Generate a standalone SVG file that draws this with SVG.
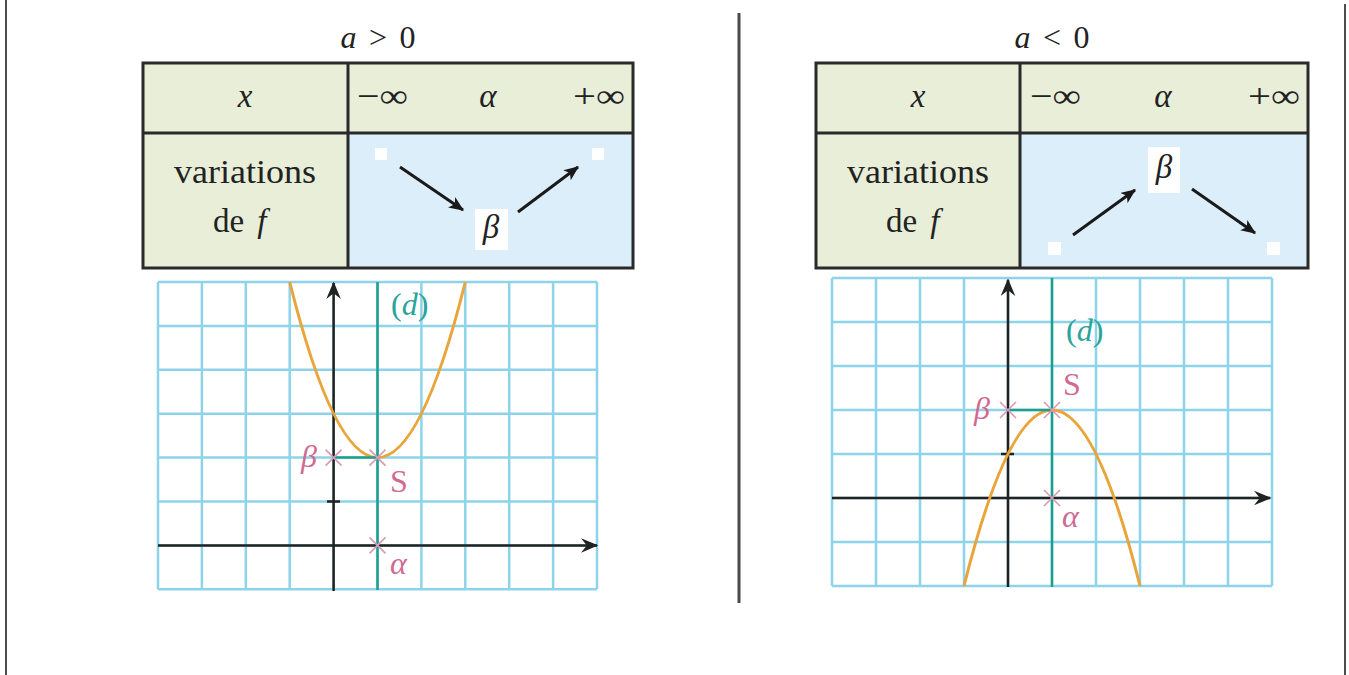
<svg xmlns="http://www.w3.org/2000/svg" width="1349" height="675" viewBox="0 0 1349 675">
<style>
text{font-family:"Liberation Serif","DejaVu Serif",serif;fill:#222}
.t{font-size:32px}
.c{font-size:33px}
.i{font-style:italic}
.hdr{fill:#e9eed9}
.blu{fill:#dceef9}
.frame{fill:none;stroke:#2a2a2a;stroke-width:3}
.sq{fill:#ffffff}
.arr{stroke:#1a1a1a;stroke-width:3;fill:none;marker-end:url(#ah)}
.grid{stroke:#8dd4ea;stroke-width:2.5;fill:none}
.axis{stroke:#222;stroke-width:2.5;fill:none;marker-end:url(#ax)}
.d{stroke:#1f9e90;stroke-width:2.5;fill:none}
.par{stroke:#e9a43a;stroke-width:3;fill:none}
.x{stroke:#d99ab5;stroke-width:1.6;fill:none}
.pk{fill:#cf6a93;font-size:32px}
.tl{fill:#2aa39a;font-size:32px}
.sep{stroke:#4a4a4a;stroke-width:3}
.bord{stroke:#111;stroke-width:1.5}
</style>
<defs>
<marker id="ah" viewBox="0 0 12 10" refX="11" refY="5" markerWidth="5" markerHeight="4.2" orient="auto" markerUnits="strokeWidth">
<path d="M0,0 L12,5 L0,10 L3,5 Z" fill="#1a1a1a"/>
</marker>
<marker id="ax" viewBox="0 0 12 10" refX="11" refY="5" markerWidth="7" markerHeight="6" orient="auto" markerUnits="strokeWidth">
<path d="M0,0 L12,5 L0,10 L4,5 Z" fill="#222"/>
</marker>
</defs>

<g id="borders">
<line class="bord" x1="6" y1="0" x2="6" y2="675"/>
<line class="bord" x1="1345" y1="4" x2="1345" y2="675"/>
<line class="sep" x1="739" y1="13" x2="739" y2="603"/>
</g>

<!-- LEFT: a > 0 -->
<g id="left-title">
<text class="t" x="378" y="48" text-anchor="middle" textLength="75" lengthAdjust="spacing"><tspan class="i">a</tspan> &gt; 0</text>
</g>
<g id="left-table">
<rect class="hdr" x="143" y="63" width="490" height="205"/>
<rect class="blu" x="348" y="133" width="285" height="135"/>
<rect class="frame" x="143" y="63" width="490" height="205"/>
<line class="frame" x1="348" y1="63" x2="348" y2="268"/>
<line class="frame" x1="143" y1="133" x2="633" y2="133"/>
<text class="c i" x="245" y="107" text-anchor="middle">x</text>
<text class="c" x="357" y="107" textLength="51" lengthAdjust="spacingAndGlyphs">−∞</text>
<text class="c i" x="488" y="107" text-anchor="middle">α</text>
<text class="c" x="573" y="107" textLength="52" lengthAdjust="spacingAndGlyphs">+∞</text>
<text class="c" x="245" y="183" text-anchor="middle" textLength="142" lengthAdjust="spacingAndGlyphs">variations</text>
<text class="c" x="213" y="232">de<tspan class="i" dx="13">f</tspan></text>
<rect class="sq" x="375" y="148" width="12" height="12"/>
<rect class="sq" x="592" y="148" width="12" height="12"/>
<rect class="sq" x="475" y="209" width="33" height="41"/>
<text class="c i" x="491" y="238" text-anchor="middle">β</text>
</g>
<g id="left-table-arrows">
<line class="arr" x1="400" y1="167" x2="463" y2="210"/>
<line class="arr" x1="518" y1="212" x2="578" y2="167"/>
</g>

<g id="left-graph">
<path class="grid" d="M158,282V589.3M201.9,282V589.3M245.8,282V589.3M289.7,282V589.3M333.6,282V589.3M377.5,282V589.3M421.4,282V589.3M465.3,282V589.3M509.2,282V589.3M553.1,282V589.3M597,282V589.3M158,282H597M158,325.9H597M158,369.8H597M158,413.7H597M158,457.6H597M158,501.5H597M158,545.4H597M158,589.3H597"/>
<line class="axis" x1="158" y1="545.4" x2="597" y2="545.4"/>
<line class="axis" x1="333.6" y1="591" x2="333.6" y2="283"/>
<line x1="327" y1="501.5" x2="340" y2="501.5" stroke="#222" stroke-width="2.5"/>
<line class="d" x1="377.5" y1="282" x2="377.5" y2="590"/>
<path class="par" d="M289.7,282 Q377.5,633.2 465.3,282"/>
<line class="d" x1="333.6" y1="457.6" x2="377.5" y2="457.6"/>
<path class="x" d="M325.6,449.6l16,16M341.6,449.6l-16,16M369.5,449.6l16,16M385.5,449.6l-16,16M369.5,537.4l16,16M385.5,537.4l-16,16"/>
<text class="pk i" x="301" y="467">β</text>
<text class="pk" x="390" y="492">S</text>
<text class="pk i" x="390" y="574">α</text>
<text class="tl" x="391" y="315">(<tspan class="i">d</tspan>)</text>
</g>

<!-- RIGHT: a < 0 -->
<g id="right-title">
<text class="t" x="1052" y="48" text-anchor="middle" textLength="75" lengthAdjust="spacing"><tspan class="i">a</tspan> &lt; 0</text>
</g>
<g id="right-table">
<rect class="hdr" x="816" y="63" width="492" height="205"/>
<rect class="blu" x="1020" y="133" width="288" height="135"/>
<rect class="frame" x="816" y="63" width="492" height="205"/>
<line class="frame" x1="1020" y1="63" x2="1020" y2="268"/>
<line class="frame" x1="816" y1="133" x2="1308" y2="133"/>
<text class="c i" x="918" y="107" text-anchor="middle">x</text>
<text class="c" x="1030" y="107" textLength="51" lengthAdjust="spacingAndGlyphs">−∞</text>
<text class="c i" x="1163" y="107" text-anchor="middle">α</text>
<text class="c" x="1248" y="107" textLength="52" lengthAdjust="spacingAndGlyphs">+∞</text>
<text class="c" x="918" y="183" text-anchor="middle" textLength="142" lengthAdjust="spacingAndGlyphs">variations</text>
<text class="c" x="886" y="232">de<tspan class="i" dx="13">f</tspan></text>
<rect class="sq" x="1048" y="242" width="13" height="13"/>
<rect class="sq" x="1267" y="242" width="13" height="13"/>
<rect class="sq" x="1148" y="147" width="32" height="46"/>
<text class="c i" x="1164" y="178" text-anchor="middle">β</text>
</g>
<g id="right-table-arrows">
<line class="arr" x1="1073" y1="235" x2="1135" y2="190"/>
<line class="arr" x1="1192" y1="189" x2="1255" y2="233"/>
</g>

<g id="right-graph">
<path class="grid" d="M832,278V586M876,278V586M920,278V586M964,278V586M1008,278V586M1052,278V586M1096,278V586M1140,278V586M1184,278V586M1228,278V586M1272,278V586M832,278H1272M832,322H1272M832,366H1272M832,410H1272M832,454H1272M832,498H1272M832,542H1272M832,586H1272"/>
<line class="axis" x1="832" y1="498" x2="1270" y2="498"/>
<line class="axis" x1="1008" y1="587" x2="1008" y2="280"/>
<line x1="1001" y1="454" x2="1014" y2="454" stroke="#222" stroke-width="2.5"/>
<line class="d" x1="1052" y1="278" x2="1052" y2="587"/>
<path class="par" d="M964,586 Q1052,234 1140,586"/>
<line class="d" x1="1008" y1="410" x2="1052" y2="410"/>
<path class="x" d="M1000,402l16,16M1016,402l-16,16M1044,402l16,16M1060,402l-16,16M1044,490l16,16M1060,490l-16,16"/>
<text class="pk i" x="974" y="419">β</text>
<text class="pk" x="1063" y="395">S</text>
<text class="pk i" x="1062" y="527">α</text>
<text class="tl" x="1066" y="341">(<tspan class="i">d</tspan>)</text>
</g>
</svg>
